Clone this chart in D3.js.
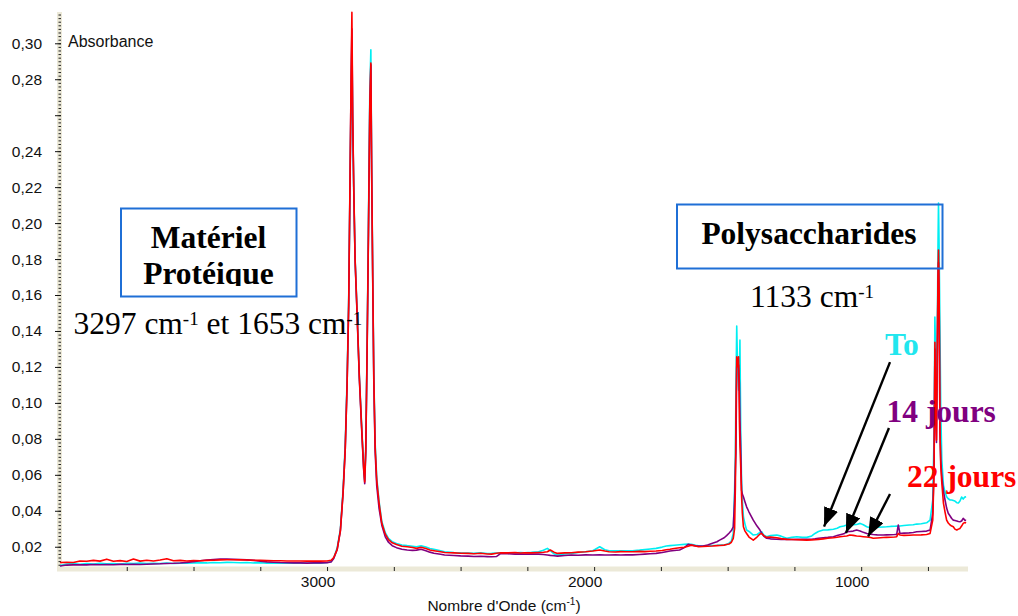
<!DOCTYPE html>
<html><head><meta charset="utf-8">
<script src="https://cdn.jsdelivr.net/npm/d3@7"></script>
<style>body{margin:0;background:#fff;} svg{display:block}</style>
</head><body>
<svg id="c" width="1018" height="616"></svg>
<script>
// ---- DATA (wavenumber in cm-1, absorbance) ----
const wavenumbers = [
 4000,3975,3950,3925,3900,3875,3850,3825,3800,3775,3750,3725,3700,3675,3650,3625,3600,3575,3550,3525,3500,3475,3450,3425,3400,3375,3350,3325,3300,3275,3250,3225,3200,3175,3150,3125,3100,3075,3050,3025,3000,
 2985,2975,2962,2950,2940,2932,2925,2919,2914,2910,2907,2904,2900,2895,2888,2879,2870,2863,2859,2855,2850,2845,2840,2836,2833,2829,2825,2820,2814,2805,2795,2782,2770,2756,2740,2720,2700,2680,2665,2648,2630,2615,
 2600,2575,2560,2525,2500,2472,2450,2425,2400,2384,2365,2349,2325,2296,2275,2261,2235,2208,2190,2175,2164,2150,2137,2110,2085,2060,2032,2005,1979,1960,1944,1920,1900,1880,1856,1830,1810,1790,1768,1745,1730,1716,1700,1680,1662,1648,1636,1620,1609,1592,1575,1557,1540,1530,1513,1504,1495,1486,
 1479,1474,1471,1469,1466,1463,1459,1456,1454,1451,1448,1445,1441,1435,1429,1420,1404,1390,1379,1372,1365,1354,
 1340,1316,1300,1279,1260,1241,1220,1204,1185,1173,1160,1142,1125,1104,1090,1079,1065,1054,1042,1030,1017,1004,992,979,965,955,940,917,905,890,875,867,861,855,840,820,805,792,775,755,742,732,727,
 724,721,718,715,712.5,710.5,708,705,702,698,692,686,680,674,667,661,655,649,642,636,630,624,618,612,607
];
const absT0 = [
 0.0095,0.0104,0.0106,0.0103,0.0107,0.0104,0.0108,0.0105,0.0107,0.0104,0.0108,0.0106,0.0109,0.0106,0.0108,0.0107,0.0110,0.0107,0.0109,0.0108,0.0110,0.0111,0.0110,0.0112,0.0111,0.0113,0.0112,0.0111,0.0112,0.0110,0.0111,0.0109,0.0110,0.0108,0.0109,0.0108,0.0109,0.0108,0.0110,0.0109,0.0112,
 0.0118,0.0138,0.0195,0.0300,0.0520,0.0770,0.1130,0.1580,0.2200,0.2700,0.3000,0.2550,0.2180,0.1800,0.1530,0.1150,0.0860,0.0650,0.0570,0.0760,0.1320,0.2000,0.2720,0.2964,0.2320,0.1720,0.1170,0.0780,0.0585,0.0450,0.0340,0.0278,0.0246,0.0228,0.0218,0.0210,0.0206,0.0203,0.0200,0.0205,0.0198,0.0190,
 0.0186,0.0178,0.0172,0.0168,0.0166,0.0165,0.0163,0.0166,0.0162,0.0163,0.0165,0.0166,0.0165,0.0167,0.0168,0.0167,0.0169,0.0172,0.0180,0.0191,0.0178,0.0160,0.0154,0.0160,0.0163,0.0168,0.0172,0.0178,0.0200,0.0183,0.0178,0.0177,0.0178,0.0177,0.0178,0.0181,0.0184,0.0187,0.0191,0.0198,0.0204,0.0206,0.0208,0.0211,0.0213,0.0215,0.0213,0.0208,0.0205,0.0204,0.0206,0.0207,0.0208,0.0209,0.0210,0.0213,0.0220,0.0232,
 0.0274,0.0515,0.0721,0.1071,0.1427,0.1201,0.1071,0.1150,0.1349,0.0832,0.0571,0.0460,0.0367,0.0326,0.0293,0.0285,0.0265,0.0268,0.0280,0.0283,0.0265,0.0256,
 0.0262,0.0265,0.0259,0.0247,0.0252,0.0256,0.0252,0.0252,0.0260,0.0274,0.0285,0.0293,0.0294,0.0297,0.0303,0.0311,0.0315,0.0321,0.0322,0.0323,0.0324,0.0330,0.0322,0.0311,0.0305,0.0306,0.0308,0.0310,0.0311,0.0313,0.0314,0.0315,0.0314,0.0315,0.0318,0.0321,0.0322,0.0326,0.0328,0.0333,0.0348,0.0460,0.0832,
 0.1477,0.1238,0.0904,0.1404,0.1849,0.2111,0.1849,0.1404,0.0960,0.0682,0.0543,0.0504,0.0478,0.0467,0.0460,0.0460,0.0457,0.0454,0.0445,0.0443,0.0454,0.0476,0.0465,0.0476,0.0478
];
const abs14 = [
 0.0093,0.0098,0.0099,0.0100,0.0099,0.0101,0.0100,0.0101,0.0100,0.0102,0.0101,0.0102,0.0101,0.0103,0.0104,0.0105,0.0107,0.0108,0.0110,0.0113,0.0117,0.0122,0.0126,0.0129,0.0131,0.0131,0.0130,0.0129,0.0127,0.0124,0.0120,0.0116,0.0114,0.0112,0.0111,0.0110,0.0110,0.0109,0.0110,0.0110,0.0111,
 0.0115,0.0135,0.0185,0.0290,0.0500,0.0740,0.1100,0.1540,0.2230,0.2780,0.3080,0.2580,0.2180,0.1790,0.1510,0.1130,0.0840,0.0630,0.0550,0.0730,0.1290,0.1940,0.2640,0.2880,0.2280,0.1680,0.1120,0.0730,0.0540,0.0410,0.0320,0.0255,0.0225,0.0206,0.0195,0.0186,0.0182,0.0180,0.0181,0.0186,0.0178,0.0170,
 0.0164,0.0158,0.0154,0.0151,0.0149,0.0148,0.0146,0.0147,0.0145,0.0144,0.0146,0.0163,0.0161,0.0159,0.0160,0.0158,0.0159,0.0159,0.0157,0.0154,0.0152,0.0150,0.0148,0.0151,0.0154,0.0153,0.0155,0.0154,0.0155,0.0154,0.0154,0.0155,0.0154,0.0155,0.0155,0.0157,0.0159,0.0161,0.0163,0.0168,0.0172,0.0176,0.0179,0.0182,0.0195,0.0213,0.0210,0.0205,0.0204,0.0204,0.0210,0.0219,0.0228,0.0237,0.0250,0.0262,0.0275,0.0290,
 0.0311,0.0460,0.0626,0.0721,0.1201,0.1221,0.1210,0.1110,0.0904,0.0738,0.0515,0.0493,0.0478,0.0449,0.0422,0.0393,0.0348,0.0315,0.0293,0.0274,0.0259,0.0247,
 0.0244,0.0242,0.0241,0.0241,0.0240,0.0241,0.0241,0.0241,0.0242,0.0244,0.0247,0.0250,0.0252,0.0256,0.0262,0.0267,0.0272,0.0283,0.0285,0.0287,0.0293,0.0288,0.0280,0.0274,0.0270,0.0268,0.0266,0.0265,0.0266,0.0267,0.0268,0.0269,0.0321,0.0274,0.0276,0.0277,0.0279,0.0283,0.0285,0.0287,0.0293,0.0386,0.0645,
 0.1300,0.0950,0.0780,0.1250,0.1650,0.1780,0.1550,0.0850,0.0680,0.0590,0.0510,0.0460,0.0415,0.0386,0.0371,0.0357,0.0348,0.0346,0.0343,0.0340,0.0339,0.0343,0.0358,0.0348,0.0346
];
const abs22 = [
 0.0112,0.0113,0.0112,0.0121,0.0119,0.0124,0.0120,0.0131,0.0119,0.0123,0.0118,0.0132,0.0120,0.0125,0.0121,0.0126,0.0133,0.0122,0.0124,0.0121,0.0123,0.0122,0.0124,0.0125,0.0127,0.0128,0.0128,0.0127,0.0126,0.0125,0.0124,0.0123,0.0122,0.0122,0.0121,0.0121,0.0121,0.0120,0.0121,0.0120,0.0121,
 0.0125,0.0140,0.0185,0.0290,0.0500,0.0740,0.1100,0.1550,0.2250,0.2800,0.3172,0.2600,0.2200,0.1800,0.1520,0.1140,0.0850,0.0640,0.0560,0.0740,0.1300,0.1950,0.2660,0.2890,0.2300,0.1700,0.1150,0.0760,0.0570,0.0440,0.0330,0.0270,0.0240,0.0222,0.0212,0.0203,0.0200,0.0196,0.0191,0.0197,0.0190,0.0182,
 0.0178,0.0172,0.0168,0.0166,0.0164,0.0163,0.0161,0.0164,0.0160,0.0159,0.0164,0.0167,0.0166,0.0168,0.0165,0.0167,0.0166,0.0168,0.0169,0.0172,0.0182,0.0170,0.0163,0.0166,0.0167,0.0170,0.0172,0.0176,0.0182,0.0176,0.0172,0.0171,0.0173,0.0172,0.0172,0.0174,0.0173,0.0175,0.0176,0.0179,0.0183,0.0186,0.0190,0.0194,0.0197,0.0203,0.0209,0.0204,0.0200,0.0201,0.0203,0.0204,0.0206,0.0207,0.0209,0.0212,0.0215,0.0225,
 0.0247,0.0300,0.0537,0.0923,0.1256,0.1201,0.1256,0.0904,0.0765,0.0643,0.0487,0.0387,0.0311,0.0287,0.0274,0.0254,0.0237,0.0254,0.0271,0.0274,0.0262,0.0252,
 0.0254,0.0250,0.0245,0.0241,0.0240,0.0239,0.0238,0.0237,0.0238,0.0239,0.0241,0.0244,0.0247,0.0250,0.0253,0.0256,0.0258,0.0260,0.0265,0.0263,0.0260,0.0258,0.0256,0.0254,0.0251,0.0247,0.0249,0.0251,0.0252,0.0253,0.0254,0.0256,0.0274,0.0265,0.0263,0.0264,0.0265,0.0265,0.0266,0.0268,0.0274,0.0348,0.0626,
 0.1337,0.1000,0.0793,0.1300,0.1700,0.1850,0.1600,0.0832,0.0650,0.0554,0.0443,0.0393,0.0348,0.0332,0.0321,0.0315,0.0311,0.0298,0.0293,0.0298,0.0302,0.0315,0.0330,0.0335,0.0332
];
const seriesNames = ["To", "14 jours", "22 jours"];
const seriesColors = ["#00EEF2", "#800080", "#FF0000"];
const xTicks = [3750,3500,3250,3000,2750,2500,2250,2000,1750,1500,1250,1000,750];
const xTickLabels = [3000, 2000, 1000];
const yMajorTicks = [0.02,0.04,0.06,0.08,0.10,0.12,0.14,0.16,0.18,0.20,0.22,0.24,0.26,0.28,0.30];
const yTickLabels = [0.02,0.04,0.06,0.08,0.10,0.12,0.14,0.16,0.18,0.20,0.22,0.24,0.28,0.30];
// arrows: [fromWn, fromAbs, toWn, toAbs]
const arrowsFrom = [[892,0.1227],[896,0.0860],[892,0.0493]];
const arrowsTo = [[1139,0.0312],[1057,0.0276],[974,0.0257]];

// ---- CHART ----
const svg = d3.select("#c");
const x = d3.scaleLinear().domain([4000, 600]).range([60, 968]);
const y = d3.scaleLinear().domain([0.0089, 0.3174]).range([566.7, 12]);
const fmt = d => d3.format(".2f")(d).replace(".", ",");
const sans = "'Liberation Sans', Arial, sans-serif";
const serif = "'Liberation Serif', 'Times New Roman', serif";

svg.append("rect").attr("width",1018).attr("height",616).attr("fill","#fff");

// axis strips
svg.append("rect").attr("x",57).attr("y",12).attr("width",5).attr("height",559).attr("fill","#ECE9D8");
svg.append("rect").attr("x",57).attr("y",566.5).attr("width",911).attr("height",5).attr("fill","#ECE9D8");

// y minor ticks
const yMinor = d3.range(0.010, 0.3165, 0.002);
const gyMinor = svg.append("g").attr("transform","translate(61,0)")
  .call(d3.axisLeft(y).tickValues(yMinor).tickSize(2.5).tickFormat(""));
gyMinor.select(".domain").remove();
gyMinor.selectAll("line").attr("stroke","#222");

// y major ticks
const gy = svg.append("g").attr("transform","translate(61,0)")
  .call(d3.axisLeft(y).tickValues(yMajorTicks).tickSize(6).tickPadding(13)
    .tickFormat(d => yTickLabels.some(v => Math.abs(v-d) < 1e-9) ? fmt(d) : ""));
gy.select(".domain").remove();
gy.selectAll("line").attr("stroke","#111");
gy.selectAll("text").attr("font-family", sans).attr("font-size","15.5px").attr("fill","#111");

// x ticks
const gx = svg.append("g").attr("transform","translate(0,567)")
  .call(d3.axisBottom(x).tickValues(xTicks).tickSize(4).tickFormat(""));
gx.select(".domain").remove();
gx.selectAll("line").attr("stroke","#222");
svg.append("g").selectAll("text").data(xTickLabels).join("text")
  .attr("x", d => x(d) - 9).attr("y", 587).attr("text-anchor","middle")
  .attr("font-family", sans).attr("font-size","15.5px").attr("fill","#111")
  .text(d => d);

// axis titles
svg.append("text").attr("x",68).attr("y",47).attr("font-family",sans)
  .attr("font-size","16px").attr("fill","#111").text("Absorbance");
const xt = svg.append("text").attr("x",504).attr("y",611).attr("text-anchor","middle")
  .attr("font-family",sans).attr("font-size","15.5px").attr("fill","#111");
xt.append("tspan").text("Nombre d'Onde (cm");
xt.append("tspan").attr("font-size","10px").attr("dy",-6).text("-1");
xt.append("tspan").attr("dy",6).text(")");

// spectra
svg.append("defs").append("clipPath").attr("id","plotclip")
  .append("rect").attr("x",60).attr("y",11).attr("width",908).attr("height",556);
const line = d3.line().x(d => x(d[0])).y(d => y(d[1]));
const series = [absT0, abs14, abs22];
const gl = svg.append("g").attr("clip-path","url(#plotclip)");
series.forEach((vals, i) => {
  const pts = wavenumbers.map((w, j) => [w, vals[j]]);
  gl.append("path").datum(pts).attr("d", line).attr("fill","none")
    .attr("stroke", seriesColors[i]).attr("stroke-width", 1.6)
    .attr("stroke-linejoin","round");
});

// annotation boxes
const boxColor = "#1F6FD6";
svg.append("rect").attr("x",121).attr("y",208.5).attr("width",175.5).attr("height",88)
  .attr("fill","none").attr("stroke",boxColor).attr("stroke-width",2);
svg.append("rect").attr("x",677).attr("y",204.5).attr("width",265.5).attr("height",64)
  .attr("fill","none").attr("stroke",boxColor).attr("stroke-width",2);

svg.select("defs").append("clipPath").attr("id","box1clip")
  .append("rect").attr("x",122).attr("y",210).attr("width",173).attr("height",76);
const b1 = svg.append("g").attr("clip-path","url(#box1clip)");
b1.append("text").attr("x",208.5).attr("y",247.5).attr("text-anchor","middle")
  .attr("font-family",serif).attr("font-weight","bold").attr("font-size","31.5px").text("Matériel");
b1.append("text").attr("x",208.5).attr("y",283.5).attr("text-anchor","middle")
  .attr("font-family",serif).attr("font-weight","bold").attr("font-size","31.5px").text("Protéique");

svg.append("text").attr("x",809).attr("y",243.5).attr("text-anchor","middle")
  .attr("font-family",serif).attr("font-weight","bold").attr("font-size","31.5px").text("Polysaccharides");

function supText(x0, y0, parts) {
  const t = svg.append("text").attr("x",x0).attr("y",y0).attr("font-family",serif)
    .attr("font-size","31.5px").attr("fill","#000");
  parts.forEach(p => {
    if (p.sup) t.append("tspan").attr("font-size","19px").attr("dy",-9.5).text(p.s);
    else t.append("tspan").attr("dy", p.back ? 9.5 : 0).text(p.s);
  });
}
supText(750, 307, [{s:"1133 cm"},{s:"-1",sup:true}]);
supText(73.5, 334, [{s:"3297 cm"},{s:"-1",sup:true},{s:" et 1653 cm",back:true},{s:"-1",sup:true}]);

// series labels
const labelPos = [[885,355],[886.5,422],[907,487]];
seriesNames.forEach((n,i) => {
  svg.append("text").attr("x",labelPos[i][0]).attr("y",labelPos[i][1])
    .attr("font-family",serif).attr("font-weight","bold").attr("font-size","31.5px")
    .attr("fill", i===0 ? "#22E6EE" : seriesColors[i]).text(n);
});

// arrows
svg.select("defs").append("marker").attr("id","ah").attr("markerUnits","userSpaceOnUse")
  .attr("markerWidth",20).attr("markerHeight",16).attr("refX",19).attr("refY",7.5)
  .attr("orient","auto").append("path").attr("d","M0,0 L19,7.5 L0,15 Z").attr("fill","#000");
arrowsFrom.forEach((f,i) => {
  const t = arrowsTo[i];
  svg.append("line").attr("x1",x(f[0])).attr("y1",y(f[1])).attr("x2",x(t[0])).attr("y2",y(t[1]))
    .attr("stroke","#000").attr("stroke-width",2.4).attr("marker-end","url(#ah)");
});
</script>
</body></html>
